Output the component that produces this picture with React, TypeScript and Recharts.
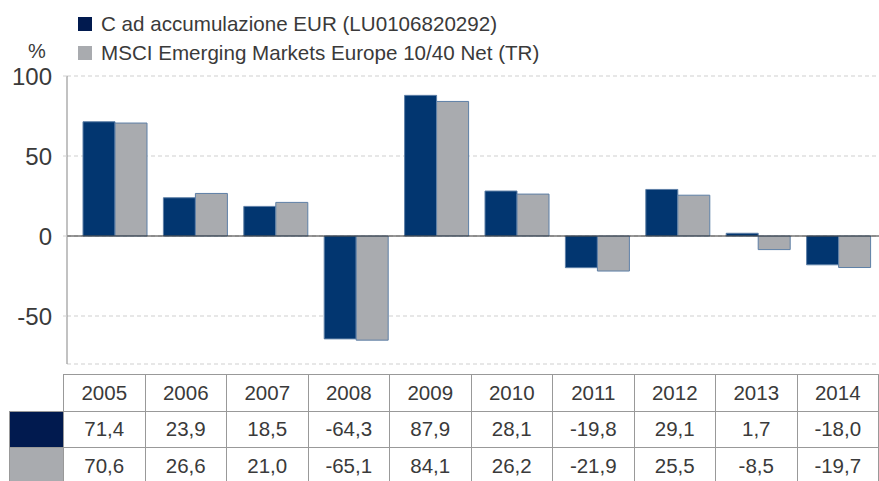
import React from 'react';
import {
    BarChart,
    Bar,
    XAxis,
    YAxis,
    CartesianGrid,
    ReferenceLine,
} from 'recharts';

const years = ['2005', '2006', '2007', '2008', '2009', '2010', '2011', '2012', '2013', '2014'];
const fundReturns = [71.4, 23.9, 18.5, -64.3, 87.9, 28.1, -19.8, 29.1, 1.7, -18.0];
const indexReturns = [70.6, 26.6, 21.0, -65.1, 84.1, 26.2, -21.9, 25.5, -8.5, -19.7];
const yTicks = [-50, 0, 50, 100];

const FUND_NAME = 'C ad accumulazione EUR (LU0106820292)';
const INDEX_NAME = 'MSCI Emerging Markets Europe 10/40 Net (TR)';

const COLORS = {
    fund: '#023670',
    fundSwatch: '#011a4f',
    index: '#a9abaf',
    outline: '#5d7fa6',
    text: '#3a3a3a',
    grid: '#d0d0d0',
    border: '#999999',
};

const FONT = '"Liberation Sans", Arial, Helvetica, sans-serif';

const fmt = (v: number) => v.toFixed(1).replace('.', ',');

const data = years.map((year, i) => ({
    year,
    fund: fundReturns[i],
    index: indexReturns[i],
}));

// table geometry
const TABLE_LEFT = 64;
const COL_W = 81.5;
const SWATCH_LEFT = 10;
const ROW_TOP = 375;
const ROW_H = 36.5;

const Cell: React.FC<{
    x: number;
    y: number;
    w: number;
    h: number;
    bg?: string;
    children?: React.ReactNode;
}> = ({ x, y, w, h, bg, children }) => (
    <div
        style={{
            position: 'absolute',
            left: x,
            top: y,
            width: w,
            height: h,
            boxSizing: 'border-box',
            border: `1px solid ${COLORS.border}`,
            marginLeft: -1,
            marginTop: -1,
            background: bg ?? 'transparent',
            display: 'flex',
            alignItems: 'center',
            justifyContent: 'center',
            fontSize: 20.5,
            color: COLORS.text,
        }}
    >
        {children}
    </div>
);

export default function App() {
    const rows = [
        { key: 'fund', swatch: COLORS.fundSwatch, values: fundReturns },
        { key: 'index', swatch: COLORS.index, values: indexReturns },
    ];

    return (
        <div
            style={{
                position: 'absolute',
                left: 0,
                top: 0,
                width: 879,
                height: 481,
                overflow: 'hidden',
                background: '#fff',
                fontFamily: FONT,
            }}
        >
            {/* legend */}
            {[
                { name: FUND_NAME, color: COLORS.fundSwatch, top: 17 },
                { name: INDEX_NAME, color: COLORS.index, top: 46 },
            ].map((item) => (
                <div
                    key={item.name}
                    style={{ position: 'absolute', left: 78, top: item.top, height: 14, display: 'flex', alignItems: 'center' }}
                >
                    <div style={{ width: 14, height: 14, background: item.color }} />
                    <span style={{ marginLeft: 9, fontSize: 20.6, color: COLORS.text, whiteSpace: 'nowrap' }}>
                        {item.name}
                    </span>
                </div>
            ))}
            <div style={{ position: 'absolute', left: 28, top: 40, fontSize: 20, color: COLORS.text }}>%</div>

            <div style={{ position: 'absolute', left: 0, top: 0 }}>
                <BarChart
                    width={879}
                    height={370}
                    data={data}
                    margin={{ top: 76, right: 0, left: 0, bottom: 6 }}
                    barGap={0}
                    barSize={32}
                >
                    <CartesianGrid
                        horizontal
                        vertical={false}
                        stroke={COLORS.grid}
                        strokeDasharray="4 3"
                        strokeWidth={1.2}
                    />
                    <XAxis dataKey="year" hide padding={{ left: 8, right: 0 }} />
                    <YAxis
                        domain={[-80, 100]}
                        ticks={yTicks}
                        interval={0}
                        width={67}
                        axisLine={{ stroke: '#999999', strokeWidth: 1.2 }}
                        tickLine={{ stroke: COLORS.grid }}
                        tickSize={4}
                        tickMargin={11}
                        tick={{ fill: COLORS.text, fontSize: 24, fontFamily: FONT }}
                    />
                    <ReferenceLine y={0} stroke="#333333" strokeWidth={1.2} />
                    <Bar
                        dataKey="fund"
                        name={FUND_NAME}
                        fill={COLORS.fund}
                        stroke={COLORS.outline}
                        strokeWidth={1}
                        isAnimationActive={false}
                    />
                    <Bar
                        dataKey="index"
                        name={INDEX_NAME}
                        fill={COLORS.index}
                        stroke={COLORS.outline}
                        strokeWidth={1}
                        isAnimationActive={false}
                    />
                </BarChart>
            </div>

            {/* data table */}
            {years.map((year, i) => (
                <Cell key={year} x={TABLE_LEFT + i * COL_W} y={ROW_TOP} w={COL_W + 1} h={ROW_H + 1}>
                    {year}
                </Cell>
            ))}
            {rows.map((row, r) => {
                const y = ROW_TOP + (r + 1) * ROW_H;
                return (
                    <React.Fragment key={row.key}>
                        <Cell x={SWATCH_LEFT} y={y} w={TABLE_LEFT - SWATCH_LEFT + 1} h={ROW_H + 1} bg={row.swatch} />
                        {row.values.map((v, i) => (
                            <Cell key={years[i]} x={TABLE_LEFT + i * COL_W} y={y} w={COL_W + 1} h={ROW_H + 1}>
                                {fmt(v)}
                            </Cell>
                        ))}
                    </React.Fragment>
                );
            })}
        </div>
    );
}
